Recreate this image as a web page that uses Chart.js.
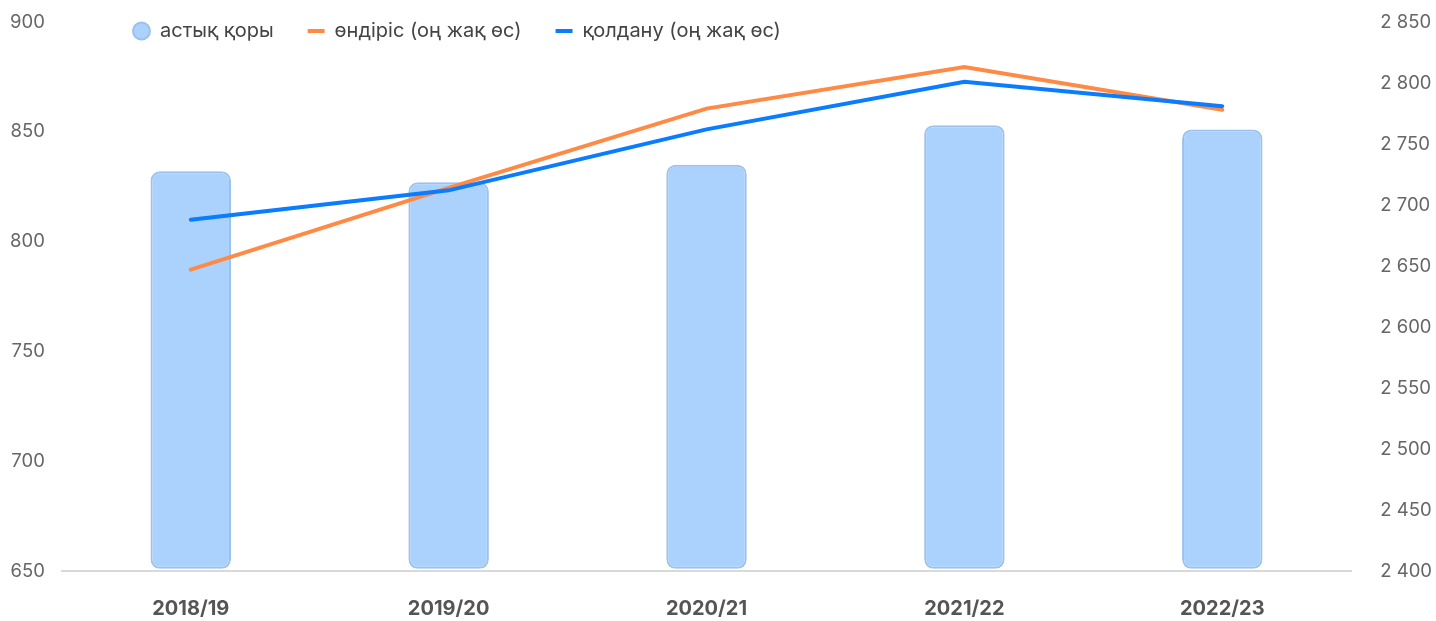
<!DOCTYPE html>
<html>
<head>
<meta charset="utf-8">
<script src="https://cdn.jsdelivr.net/npm/chart.js@4"></script>
<style>
  html, body { margin: 0; padding: 0; background: #fff; overflow: hidden; }
  #wrap { width: 1436px; height: 621px; position: relative; }
</style>
</head>
<body>
<div id="wrap"><canvas id="grafik"></canvas></div>
<script>
// --- деректер ---
const kezender = ['2018/19', '2019/20', '2020/21', '2021/22', '2022/23'];
const astykKory = [832, 827, 835, 853, 851];
const ondiris = [2647, 2714, 2779, 2813, 2778];
const qoldanu = [2688, 2712, 2762, 2801, 2781];
const solTikter = [650, 700, 750, 800, 850, 900];
const ongTikter = [2400, 2450, 2500, 2550, 2600, 2650, 2700, 2750, 2800, 2850];

function sanFormat(v) {
    // 2850 -> "2 850"
    return String(Math.round(v)).replace(/\B(?=(\d{3})+(?!\d))/g, ' ');
}

// legend grafik ауданының ішінде тұрады, орын алмайды
const legendJyljytu = {
    id: 'legendJyljytu',
    beforeLayout(chart) {
        let lg = chart.legend;
        if (lg && !lg._jyljydy) {
            let fit = lg.fit;
            lg.fit = function () { fit.call(this); this.height = 0; };
            lg._jyljydy = true;
        }
    },
    afterLayout(chart) {
        let lg = chart.legend;
        if (!lg) return;
        let w = lg.width;
        lg.left = 99; lg.right = lg.left + w;
        lg.top = -13; lg.height = 90; lg.bottom = lg.top + 90;
    }
};

Chart.defaults.font.family = 'Inter, "Noto Sans", sans-serif';

new Chart(document.getElementById('grafik'), {
    type: 'bar',
    data: {
        labels: kezender,
        datasets: [
            {
                type: 'line',
                label: 'өндіріс (оң жақ өс)',
                data: ondiris,
                yAxisID: 'yOng',
                borderColor: '#ff8a45',
                backgroundColor: '#ff8a45',
                borderWidth: 4,
                borderCapStyle: 'round',
                pointStyle: 'line',
                pointRadius: 0,
                tension: 0,
                order: 1
            },
            {
                type: 'line',
                label: 'қолдану (оң жақ өс)',
                data: qoldanu,
                yAxisID: 'yOng',
                borderColor: '#0a7cff',
                backgroundColor: '#0a7cff',
                borderWidth: 4,
                borderCapStyle: 'round',
                pointStyle: 'line',
                pointRadius: 0,
                tension: 0,
                order: 0
            },
            {
                label: 'астық қоры',
                data: astykKory,
                yAxisID: 'ySol',
                base: 651,
                backgroundColor: '#aad2fd',
                borderColor: '#9bc1ec',
                borderWidth: 2,
                borderRadius: 9,
                borderSkipped: false,
                pointStyle: 'circle',
                categoryPercentage: 0.8,
                barPercentage: 0.39,
                order: 2
            }
        ]
    },
    options: {
        responsive: true,
        maintainAspectRatio: false,
        animation: false,
        layout: { padding: { left: 10, right: 4, top: 22, bottom: 0 } },
        plugins: {
            legend: {
                position: 'top',
                align: 'start',
                labels: {
                    usePointStyle: true,
                    boxWidth: 17,
                    boxHeight: 12,
                    padding: 34,
                    color: '#444',
                    font: { size: 20 },
                    sort: (a, b) => (a.datasetIndex === 2 ? -1 : b.datasetIndex === 2 ? 1 : a.datasetIndex - b.datasetIndex)
                }
            },
            tooltip: { enabled: false }
        },
        scales: {
            x: {
                grid: { display: false, drawTicks: true, tickLength: 26 },
                border: { display: true, color: '#d9d9d9', width: 2 },
                ticks: { color: '#555', font: { size: 20, weight: 'bold' }, padding: 0 }
            },
            ySol: {
                position: 'left',
                min: 650,
                max: 900,
                afterBuildTicks: ax => { ax.ticks = solTikter.map(v => ({ value: v })); },
                grid: { display: false, drawTicks: true, tickLength: 17 },
                border: { display: false },
                ticks: { color: '#666', font: { size: 18.5 }, padding: 0 }
            },
            yOng: {
                position: 'right',
                min: 2400,
                max: 2850,
                afterBuildTicks: ax => { ax.ticks = ongTikter.map(v => ({ value: v })); },
                grid: { display: false, drawTicks: true, tickLength: 29 },
                border: { display: false },
                ticks: { color: '#666', font: { size: 18.5 }, padding: 0, callback: v => sanFormat(v) }
            }
        }
    },
    plugins: [legendJyljytu]
});
</script>
</body>
</html>
